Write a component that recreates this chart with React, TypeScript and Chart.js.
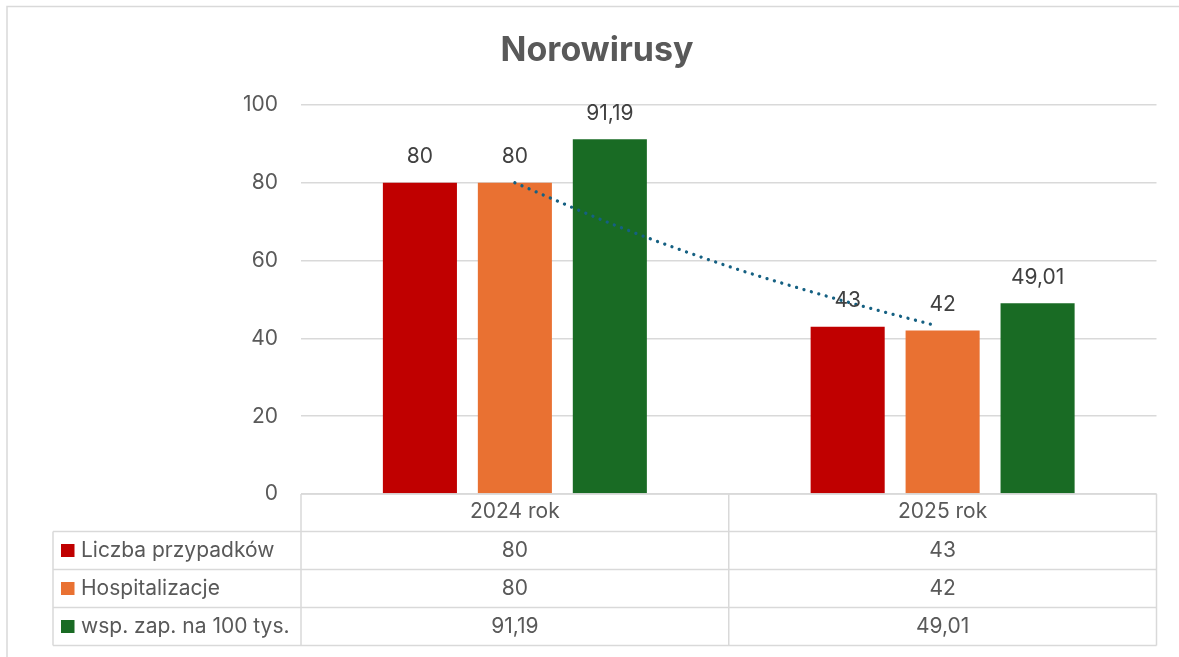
import React, { useEffect, useRef } from "react";
import { Chart, registerables } from "chart.js";

Chart.register(...registerables);

const title = "Norowirusy";
const categories = ["2024 rok", "2025 rok"];
const seriesNames = ["Liczba przypadków", "Hospitalizacje", "wsp. zap. na 100 tys."];
const liczbaPrzypadkow = [80, 43];
const hospitalizacje = [80, 42];
const wspZap = [91.19, 49.01];
const seriesColors = ["#C00000", "#E97132", "#196B24"];
// dotted trend line over "Hospitalizacje", x in category units
const trendX = [0, 0.25, 0.5, 0.75, 0.98];
const trendY = [80, 68.4, 58.5, 50.2, 43.4];
const yMin = 0;
const yMax = 100;
const yStep = 20;

const FONT = "Inter, 'Noto Sans', sans-serif";
const TEXT = "#595959";
const GRID = "#d9d9d9";

const fmt = (v: number) => String(v).replace(".", ",");

export default function App() {
  const ref = useRef<HTMLCanvasElement | null>(null);

  useEffect(() => {
    if (!ref.current) return;
    const seriesValues = [liczbaPrzypadkow, hospitalizacje, wspZap];

    const tablePlugin = {
      id: "tablePlugin",
      afterDatasetsDraw(chart: any) {
        const ctx = chart.ctx;
        ctx.save();
        ctx.font = `21px ${FONT}`;
        ctx.fillStyle = "#404040";
        ctx.textAlign = "center";
        ctx.textBaseline = "middle";
        for (let d = 0; d < 3; d++) {
          const meta = chart.getDatasetMeta(d);
          meta.data.forEach((bar: any, i: number) => {
            ctx.fillText(fmt(seriesValues[d][i]), bar.x, bar.y - 26);
          });
        }
        ctx.restore();
      },
      afterDraw(chart: any) {
        const ctx = chart.ctx;
        const xs = chart.scales.x;
        const area = chart.chartArea;
        const left = area.left;
        const right = area.right;
        const top = area.bottom;
        const rowH = 38;
        const headerH = 37.5;
        const tableLeft = 53;
        ctx.save();
        // outer chart border (top and left)
        ctx.strokeStyle = GRID;
        ctx.lineWidth = 1.5;
        ctx.beginPath();
        ctx.moveTo(7, 657);
        ctx.lineTo(7, 6.5);
        ctx.lineTo(1179, 6.5);
        ctx.stroke();

        // title
        ctx.font = `bold 34px ${FONT}`;
        ctx.fillStyle = TEXT;
        ctx.textAlign = "center";
        ctx.textBaseline = "alphabetic";
        ctx.fillText(title, 597, 61);

        // table lines
        const rowsTop = top + headerH;
        const bottom = rowsTop + rowH * 3;
        ctx.strokeStyle = GRID;
        ctx.lineWidth = 1.5;
        ctx.beginPath();
        ctx.moveTo(left, top);
        ctx.lineTo(right, top);
        for (let r = 0; r <= 3; r++) {
          const y = rowsTop + rowH * r;
          ctx.moveTo(tableLeft, y);
          ctx.lineTo(right, y);
        }
        ctx.moveTo(tableLeft, rowsTop);
        ctx.lineTo(tableLeft, bottom);
        const bounds = [left];
        for (let i = 0; i < categories.length - 1; i++) {
          bounds.push(xs.getPixelForValue(i + 0.5));
        }
        bounds.push(right);
        bounds.forEach((b) => {
          ctx.moveTo(b, top);
          ctx.lineTo(b, bottom);
        });
        ctx.stroke();

        // rows
        ctx.font = `21px ${FONT}`;
        ctx.textBaseline = "middle";
        for (let r = 0; r < 3; r++) {
          const cy = rowsTop + rowH * r + rowH / 2;
          ctx.fillStyle = seriesColors[r];
          ctx.fillRect(61, cy - 6.5, 13.5, 13);
          ctx.fillStyle = TEXT;
          ctx.textAlign = "left";
          ctx.fillText(seriesNames[r], 81, cy);
          ctx.textAlign = "center";
          for (let i = 0; i < categories.length; i++) {
            ctx.fillText(fmt(seriesValues[r][i]), xs.getPixelForValue(i), cy);
          }
        }
        ctx.restore();
      },
    };

    const chart = new Chart(ref.current, {
      type: "bar",
      data: {
        datasets: [
          ...seriesValues.map((vals, k) => ({
            type: "bar" as const,
            label: seriesNames[k],
            data: vals.map((v, i) => ({ x: i, y: v })),
            backgroundColor: seriesColors[k],
            borderWidth: 0,
            barPercentage: 0.78,
            categoryPercentage: 0.666,
            order: 2,
          })),
          {
            type: "line" as const,
            label: "trend",
            data: trendX.map((x, i) => ({ x, y: trendY[i] })),
            borderColor: "#156082",
            borderWidth: 3.3,
            borderDash: [0.01, 7.7],
            borderCapStyle: "round",
            pointRadius: 0,
            tension: 0.4,
            cubicInterpolationMode: "monotone",
            fill: false,
            order: 0,
          } as any,
        ],
      },
      options: {
        responsive: false,
        animation: false,
        devicePixelRatio: 1,
        layout: { padding: { left: 0, right: 22.5, top: 105, bottom: 0 } },
        plugins: {
          legend: { display: false },
          tooltip: { enabled: false },
          title: { display: false },
        },
        scales: {
          x: {
            type: "linear",
            min: -0.5,
            max: 1.5,
            offset: false,
            grid: { display: false, drawTicks: false },
            border: { display: false },
            afterBuildTicks: (s: any) => {
              s.ticks = categories.map((_, i) => ({ value: i }));
            },
            ticks: {
              color: TEXT,
              font: { family: FONT, size: 21 },
              padding: 5,
              maxRotation: 0,
              autoSkip: false,
              callback: (v: any) => categories[Math.round(Number(v))] ?? "",
            },
            afterFit: (s: any) => {
              s.height = 163;
            },
          },
          y: {
            min: yMin,
            max: yMax,
            ticks: {
              stepSize: yStep,
              color: TEXT,
              font: { family: FONT, size: 21 },
              padding: 23,
            },
            grid: { color: GRID, lineWidth: 1.5, drawTicks: false },
            border: { display: false },
            afterFit: (s: any) => {
              s.width = 301;
            },
          },
        },
      } as any,
      plugins: [tablePlugin],
    });
    return () => chart.destroy();
  }, []);

  return (
    <div style={{ position: "fixed", left: 0, top: 0, width: 1179, height: 657, background: "#fff" }}>
      <canvas ref={ref} width={1179} height={657} style={{ display: "block", width: 1179, height: 657 }} />
    </div>
  );
}
